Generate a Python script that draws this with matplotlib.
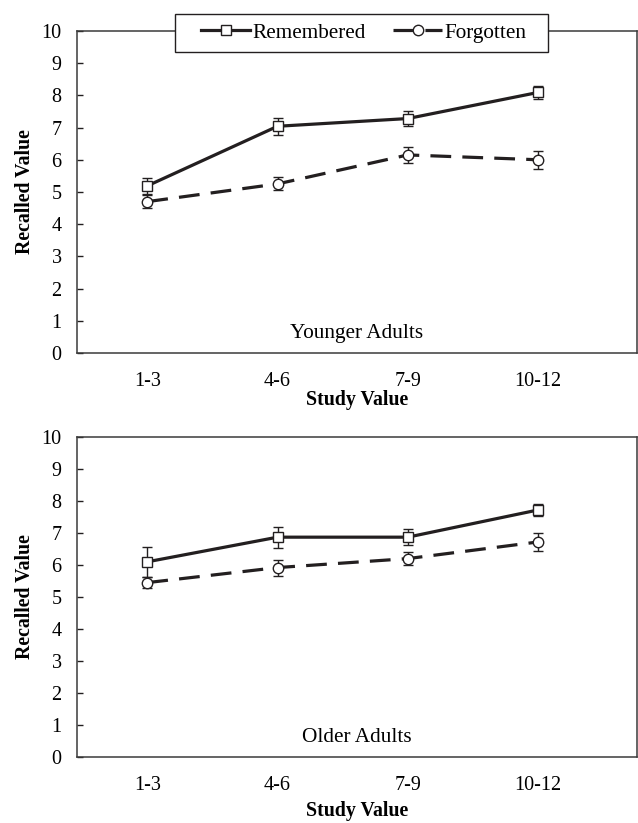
import matplotlib.pyplot as plt
from matplotlib.patches import Rectangle

plt.rcParams['font.family'] = ['Liberation Serif', 'DejaVu Serif']

groups = ["1-3", "4-6", "7-9", "10-12"]

young_rem = [5.19, 7.04, 7.28, 8.09]
young_rem_err = [0.25, 0.27, 0.22, 0.20]
young_forg = [4.70, 5.25, 6.15, 6.00]
young_forg_err = [0.20, 0.20, 0.25, 0.28]

old_rem = [6.10, 6.87, 6.87, 7.72]
old_rem_err = [0.46, 0.33, 0.25, 0.20]
old_forg = [5.45, 5.92, 6.20, 6.72]
old_forg_err = [0.18, 0.25, 0.20, 0.27]

ink = '#231f20'
x = list(range(len(groups)))

fig = plt.figure(figsize=(6.38, 8.23), dpi=100)
ax1 = fig.add_axes([0.1207, 0.5711, 0.8777, 0.3913])
ax2 = fig.add_axes([0.1207, 0.0802, 0.8777, 0.3888])


def draw(ax, rem, rem_err, forg, forg_err, title, labelpad):
    ax.errorbar(x, forg, yerr=forg_err, fmt='none', ecolor=ink,
                elinewidth=1, capsize=3.5, capthick=1, zorder=2)
    ax.errorbar(x, rem, yerr=rem_err, fmt='none', ecolor=ink,
                elinewidth=1, capsize=3.5, capthick=1, zorder=2)
    ax.plot(x, forg, color=ink, lw=2.3, dashes=(6.5, 3.5), marker='o',
            ms=7.5, mfc='white', mec=ink, mew=1, label='Forgotten', zorder=3)
    ax.plot(x, rem, color=ink, lw=2.3, marker='s', ms=7, mfc='white',
            mec=ink, mew=1, label='Remembered', zorder=4)
    ax.set_xlim(-0.54, 3.76)
    ax.set_ylim(0, 10)
    ax.set_yticks(range(0, 11))
    ax.set_xticks(x)
    ax.set_xticklabels(groups)
    ax.tick_params(axis='y', direction='in', length=4, width=1, pad=11,
                   labelsize=14.5, color=ink)
    ax.tick_params(axis='x', length=0, pad=14, labelsize=14.5)
    for s in ax.spines.values():
        s.set_linewidth(1.1)
        s.set_color('#3a3a3a')
    ax.set_ylabel('Recalled Value', fontsize=14.3, fontweight='bold',
                  labelpad=5)
    ax.set_xlabel('Study Value', fontsize=14.3, fontweight='bold',
                  labelpad=labelpad)
    ax.text(0.5, 0.06, title, transform=ax.transAxes, ha='center',
            va='center', fontsize=15.3)


draw(ax1, young_rem, young_rem_err, young_forg, young_forg_err,
     'Younger Adults', -1)
draw(ax2, old_rem, old_rem_err, old_forg, old_forg_err,
     'Older Adults', 4)

# legend box sits across the top spine
box = Rectangle((0.175, 0.935), 0.666, 0.118, transform=ax1.transAxes,
                facecolor='white', edgecolor=ink, lw=1, clip_on=False,
                zorder=9)
ax1.add_patch(box)

h, l = ax1.get_legend_handles_labels()
leg = ax1.legend(h[::-1], l[::-1], loc='center', bbox_to_anchor=(0.5125, 0.994),
                 ncol=2, fontsize=15.3, frameon=False, handlelength=2.3,
                 handletextpad=0.1, columnspacing=1.3, borderpad=0.3)
leg.set_zorder(10)

fig.savefig('out.png', dpi=100)
